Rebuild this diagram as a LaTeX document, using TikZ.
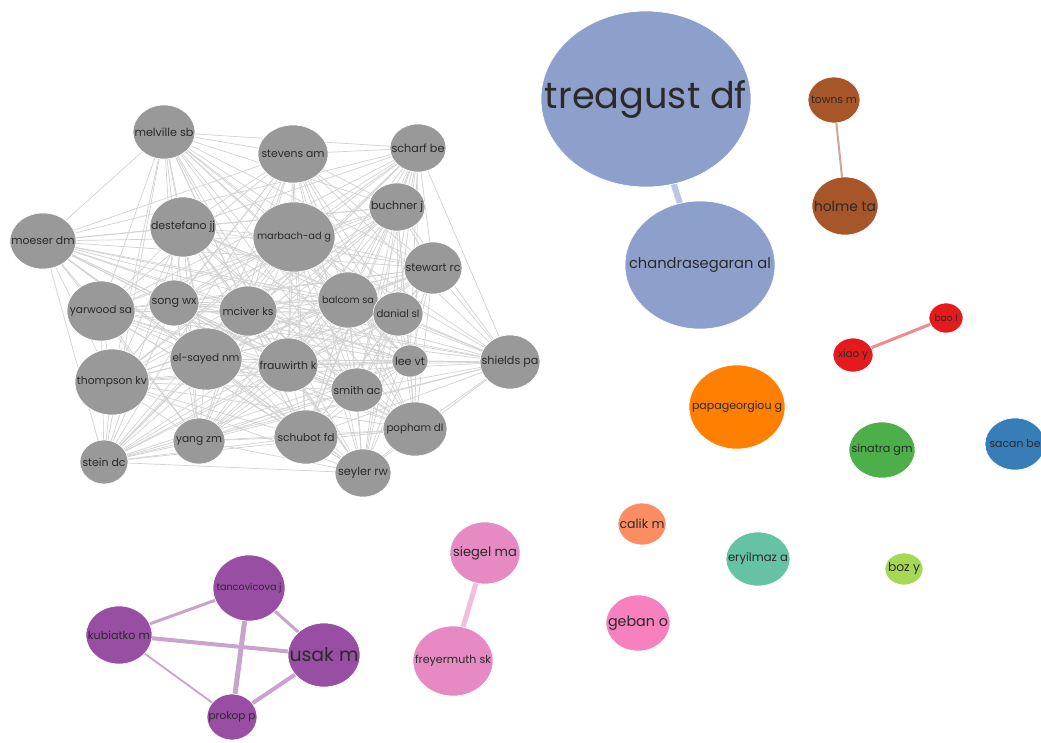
\documentclass[tikz,border=0pt]{standalone}
\usepackage{fontspec}
\setmainfont{Poppins}
\usetikzlibrary{shapes.geometric}
\pgfdeclarelayer{bg}
\pgfsetlayers{bg,main}
\definecolor{gfill}{HTML}{999999}
\definecolor{gedgec}{HTML}{D2D2D2}
\definecolor{bluS}{HTML}{8DA0CB}
\definecolor{bluE}{HTML}{BAC6E3}
\definecolor{brn}{HTML}{A65628}
\definecolor{brnE}{HTML}{D3A493}
\definecolor{redN}{HTML}{E41A1C}
\definecolor{redE}{HTML}{F08A8C}
\definecolor{orgN}{HTML}{FF7F00}
\definecolor{grnN}{HTML}{4DAF4A}
\definecolor{bluN}{HTML}{377EB8}
\definecolor{salN}{HTML}{FC8D62}
\definecolor{pnkA}{HTML}{F781BF}
\definecolor{pnkB}{HTML}{E78AC3}
\definecolor{pnkE}{HTML}{EDC0DC}
\definecolor{tealN}{HTML}{66C2A5}
\definecolor{limeN}{HTML}{A6D854}
\definecolor{purN}{HTML}{984EA3}
\definecolor{purE}{HTML}{C9A3CE}
\definecolor{txt}{HTML}{2A2A2A}
\tikzset{
  bub/.style={ellipse, draw=white, line width=0.6pt, inner sep=0pt},
  lbl/.style={inner sep=0pt, text=txt},
  gedge/.style={draw=gedgec, line width=0.7pt},
}
% name, x, y, width, height, fill, text width, text
\newcommand\bub[8]{%
  \node[bub, fill=#6, minimum width=#4pt, minimum height=#5pt] (#1) at (#2,#3) {};
  \node[lbl] (#1-t) at (#1.center) {\resizebox{#7pt}{!}{#8}};}
\def\glist{melville,stevens,scharf,buchner,marbach,stewart,destefano,moeser,yarwood,song,mciver,balcom,danial,elsayed,thompson,frauwirth,lee,shields,smith,stein,yang,schubot,popham,seyler}
\begin{document}
\begin{tikzpicture}[x=1pt,y=-1pt]
\useasboundingbox (0,0) rectangle (1041,742);
\begin{pgfonlayer}{bg}
\fill[white] (0,0) rectangle (1041,742);
\end{pgfonlayer}
% grey cluster
\bub{melville}{164}{132}{62}{54}{gfill}{59}{melville sb}
\bub{stevens}{293}{154}{70}{58}{gfill}{63}{stevens am}
\bub{scharf}{418}{148}{56}{48}{gfill}{53}{scharf be}
\bub{buchner}{397}{207}{56}{48}{gfill}{52}{buchner j}
\bub{marbach}{294}{237}{82}{70}{gfill}{74}{marbach-ad g}
\bub{stewart}{433}{268}{58}{52}{gfill}{55}{stewart rc}
\bub{destefano}{183}{227}{66}{60}{gfill}{64}{destefano jj}
\bub{moeser}{43}{241}{66}{56}{gfill}{63}{moeser dm}
\bub{yarwood}{101}{311}{68}{60}{gfill}{62}{yarwood sa}
\bub{song}{174}{303}{50}{46}{gfill}{45}{song wx}
\bub{mciver}{248}{311}{58}{50}{gfill}{51}{mciver ks}
\bub{balcom}{348}{300}{60}{56}{gfill}{52}{balcom sa}
\bub{danial}{398}{314}{50}{44}{gfill}{43}{danial sl}
\bub{elsayed}{206}{359}{72}{62}{gfill}{67}{el-sayed nm}
\bub{thompson}{112}{382}{74}{66}{gfill}{70}{thompson kv}
\bub{frauwirth}{288}{365}{60}{54}{gfill}{57}{frauwirth k}
\bub{lee}{410}{361}{36}{32}{gfill}{30}{lee vt}
\bub{shields}{510}{362}{60}{54}{gfill}{57}{shields pa}
\bub{smith}{357}{390}{52}{44}{gfill}{47}{smith ac}
\bub{stein}{104}{462}{48}{44}{gfill}{43}{stein dc}
\bub{yang}{199}{441}{52}{46}{gfill}{46}{yang zm}
\bub{schubot}{306}{437}{64}{54}{gfill}{57}{schubot fd}
\bub{popham}{415}{429}{64}{54}{gfill}{57}{popham dl}
\bub{seyler}{363}{473}{56}{48}{gfill}{50}{seyler rw}
% other clusters
\bub{treagust}{646}{99}{210}{176}{bluS}{202}{treagust df}
\bub{chandra}{700}{265}{150}{128}{bluS}{142}{chandrasegaran al}
\bub{towns}{834}{100}{52}{46}{brn}{46}{towns m}
\bub{holme}{845}{206}{66}{58}{brn}{62}{holme ta}
\bub{bao}{946}{318}{34}{30}{redN}{23}{bao l}
\bub{xiao}{853}{355}{40}{34}{redN}{30}{xiao y}
\bub{papa}{737}{407}{96}{84}{orgN}{90}{papageorgiou g}
\bub{sinatra}{882}{450}{66}{56}{grnN}{61}{sinatra gm}
\bub{sacan}{1015}{444}{60}{52}{bluN}{51}{sacan be}
\bub{calik}{642}{524}{48}{42}{salN}{45}{calik m}
\bub{geban}{638}{623}{64}{56}{pnkA}{60}{geban o}
\bub{siegel}{485}{553}{70}{62}{pnkB}{64}{siegel ma}
\bub{freyer}{453}{661}{80}{70}{pnkB}{76}{freyermuth sk}
\bub{eryilmaz}{758}{559}{64}{54}{tealN}{60}{eryilmaz a}
\bub{boz}{904}{569}{38}{32}{limeN}{32}{boz y}
\bub{tanco}{249}{588}{72}{66}{purN}{65}{tancovicova j}
\bub{kubiatko}{119}{635}{66}{58}{purN}{62}{kubiatko m}
\bub{usak}{324}{655}{72}{64}{purN}{69}{usak m}
\bub{prokop}{232}{717}{50}{46}{purN}{47}{prokop p}
% edges
\begin{pgfonlayer}{bg}
\foreach \a [count=\i] in \glist {
  \foreach \b [count=\j] in \glist {
    \ifnum\j>\i \draw[gedge] (\a) -- (\b); \fi
  }
}
\draw[draw=bluE, line width=6pt] (treagust) -- (chandra);
\draw[draw=brnE, line width=2pt] (towns) -- (holme);
\draw[draw=redE, line width=3pt] (bao) -- (xiao);
\draw[draw=pnkE, line width=5pt] (siegel) -- (freyer);
\draw[draw=purE, line width=3pt] (tanco) -- (kubiatko);
\draw[draw=purE, line width=3pt] (tanco) -- (usak);
\draw[draw=purE, line width=5pt] (tanco) -- (prokop);
\draw[draw=purE, line width=4pt] (kubiatko) -- (usak);
\draw[draw=purE, line width=1.8pt] (kubiatko) -- (prokop);
\draw[draw=purE, line width=4pt] (usak) -- (prokop);
\end{pgfonlayer}
\end{tikzpicture}
\end{document}
